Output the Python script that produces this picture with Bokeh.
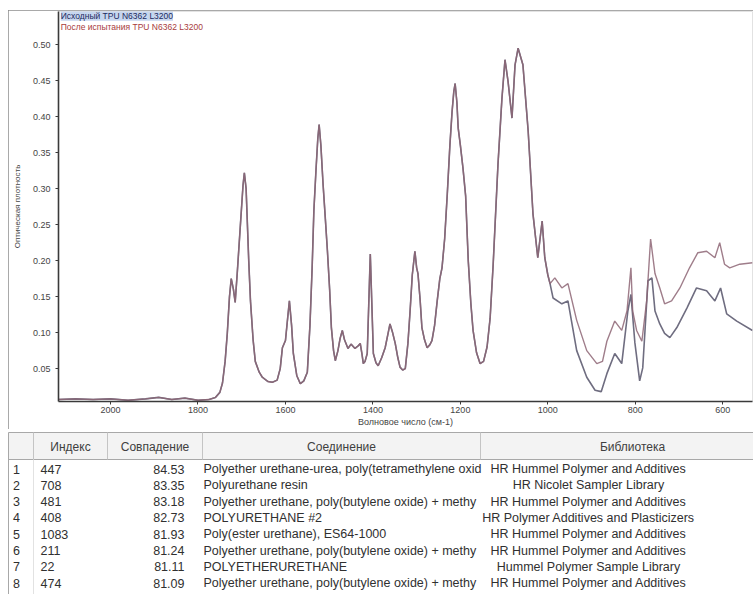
from bokeh.plotting import figure
from bokeh.models import (Range1d, FixedTicker, PrintfTickFormatter, Label)
from bokeh.core.properties import value
from bokeh.embed import file_html
from bokeh.resources import INLINE

# ---------------- data ----------------
wavenumber_shared = [2119, 2080, 2040, 2000, 1960, 1920, 1890, 1860, 1830, 1800, 1775, 1760,
                     1750, 1744, 1738, 1733, 1728, 1724, 1719, 1715, 1710, 1703, 1697, 1694,
                     1690, 1684, 1680, 1674, 1669, 1660, 1653, 1640, 1630, 1619, 1612, 1607,
                     1600, 1595, 1591, 1586, 1582, 1574, 1566, 1558, 1550, 1544, 1539, 1535,
                     1530, 1526, 1523, 1519, 1514, 1509, 1504, 1499, 1495, 1490, 1486, 1480,
                     1475, 1470, 1465, 1457, 1450, 1441, 1433, 1429, 1425, 1422, 1418, 1413,
                     1409, 1406, 1403, 1399, 1393, 1388, 1380, 1372, 1365, 1361, 1355, 1349,
                     1343, 1338, 1332, 1326, 1320, 1315, 1310, 1304, 1300, 1297, 1292, 1288,
                     1282, 1276, 1270, 1265, 1259, 1253, 1247, 1242, 1236, 1230, 1224, 1219,
                     1215, 1212, 1208, 1205, 1200, 1194, 1188, 1182, 1176, 1171, 1163, 1155,
                     1147, 1139, 1132, 1125, 1114, 1105, 1098, 1091, 1082, 1075, 1068, 1057,
                     1045, 1034, 1023, 1013, 1007, 1000]
absorbance_shared = [0.007, 0.008, 0.007, 0.008, 0.006, 0.008, 0.010, 0.007, 0.009, 0.006, 0.007, 0.010,
                     0.017, 0.030, 0.060, 0.099, 0.150, 0.175, 0.160, 0.142, 0.185, 0.250, 0.305, 0.322,
                     0.300, 0.200, 0.144, 0.090, 0.060, 0.045, 0.038, 0.032, 0.031, 0.034, 0.050, 0.079,
                     0.089, 0.120, 0.144, 0.110, 0.071, 0.040, 0.029, 0.033, 0.045, 0.110, 0.190, 0.270,
                     0.328, 0.370, 0.389, 0.360, 0.306, 0.260, 0.213, 0.160, 0.107, 0.075, 0.061, 0.075,
                     0.092, 0.103, 0.090, 0.078, 0.084, 0.078, 0.082, 0.085, 0.070, 0.057, 0.060, 0.071,
                     0.150, 0.209, 0.150, 0.071, 0.058, 0.054, 0.065, 0.079, 0.100, 0.112, 0.100, 0.085,
                     0.065, 0.052, 0.048, 0.050, 0.085, 0.130, 0.180, 0.213, 0.190, 0.182, 0.145, 0.107,
                     0.090, 0.079, 0.083, 0.089, 0.110, 0.144, 0.175, 0.190, 0.230, 0.292, 0.360, 0.407,
                     0.435, 0.446, 0.420, 0.384, 0.360, 0.328, 0.290, 0.200, 0.140, 0.103, 0.072, 0.057,
                     0.060, 0.080, 0.120, 0.195, 0.334, 0.425, 0.479, 0.449, 0.398, 0.472, 0.495, 0.472,
                     0.380, 0.265, 0.204, 0.255, 0.204, 0.180]

# after-test spectrum (upper branch below 1000 cm-1)
wavenumber_after_tail = [995, 984, 968, 954, 934, 911, 888, 875, 865, 847, 831, 819, 810, 806,
                         797, 785, 774, 765, 755, 744, 733, 717, 698, 676, 657, 637, 618, 607,
                         596, 584, 561, 532]
absorbance_after_tail = [0.168, 0.176, 0.162, 0.168, 0.117, 0.075, 0.057, 0.060, 0.088, 0.116, 0.103,
                         0.130, 0.190, 0.130, 0.103, 0.088, 0.144, 0.230, 0.182, 0.162, 0.140, 0.144,
                         0.162, 0.190, 0.211, 0.213, 0.204, 0.225, 0.195, 0.190, 0.195, 0.197]

# original spectrum (lower branch below 1000 cm-1)
wavenumber_orig_tail = [995, 988, 968, 954, 934, 911, 892, 878, 865, 847, 831, 817, 810, 801,
                        790, 783, 771, 762, 755, 744, 733, 721, 705, 682, 660, 637, 618, 605,
                        591, 568, 532]
absorbance_orig_tail = [0.168, 0.148, 0.140, 0.144, 0.075, 0.038, 0.020, 0.018, 0.043, 0.071, 0.057,
                        0.130, 0.153, 0.086, 0.033, 0.051, 0.172, 0.176, 0.130, 0.112, 0.099, 0.093,
                        0.107, 0.134, 0.162, 0.158, 0.144, 0.162, 0.126, 0.116, 0.103]

y_ticks = [0.05, 0.10, 0.15, 0.20, 0.25, 0.30, 0.35, 0.40, 0.45, 0.50]
x_ticks = [2000, 1800, 1600, 1400, 1200, 1000, 800, 600]

series_names = ["Исходный TPU N6362 L3200", "После испытания TPU N6362 L3200"]

table_headers = ["Индекс", "Совпадение", "Соединение", "Библиотека"]
row_numbers = ["1", "2", "3", "4", "5", "6", "7", "8"]
index_values = ["447", "708", "481", "408", "1083", "211", "22", "474"]
match_values = ["84.53", "83.35", "83.18", "82.73", "81.93", "81.24", "81.11", "81.09"]
compounds = [
    "Polyether urethane-urea, poly(tetramethylene oxid",
    "Polyurethane resin",
    "Polyether urethane, poly(butylene oxide) + methy",
    "POLYURETHANE #2",
    "Poly(ester urethane), ES64-1000",
    "Polyether urethane, poly(butylene oxide) + methy",
    "POLYETHERURETHANE",
    "Polyether urethane, poly(butylene oxide) + methy",
]
libraries = [
    "HR Hummel Polymer and Additives",
    "HR Nicolet Sampler Library",
    "HR Hummel Polymer and Additives",
    "HR Polymer Additives and Plasticizers",
    "HR Hummel Polymer and Additives",
    "HR Hummel Polymer and Additives",
    "Hummel Polymer Sample Library",
    "HR Hummel Polymer and Additives",
]

# ---------------- spectrum ----------------
FONT = "Liberation Sans"
p = figure(width=745, height=419, x_range=Range1d(2119, 532), y_range=Range1d(0.0043, 0.546),
           output_backend="svg", toolbar_location=None, margin=(10, 0, 0, 8),
           styles={"outline": "2px solid #8c8c8c", "outline-offset": "-2px"},
           min_border_left=50, min_border_right=1, min_border_top=1, min_border_bottom=28)
p.grid.visible = False
p.outline_line_color = None
p.background_fill_color = "white"
p.border_fill_color = "white"

wn_orig = wavenumber_shared + wavenumber_orig_tail
ab_orig = absorbance_shared + absorbance_orig_tail
wn_after = wavenumber_shared + wavenumber_after_tail
ab_after = absorbance_shared + absorbance_after_tail

p.line(wn_orig, ab_orig, line_color="#6f6d80", line_width=1.6)
p.line(wn_after, ab_after, line_color="#8e6676", line_width=1.4, line_alpha=0.85)

for ax in (p.xaxis[0], p.yaxis[0]):
    ax.axis_line_color = "#3a3a3a"
    ax.axis_line_width = 1.6
    ax.major_tick_line_color = "#3a3a3a"
    ax.major_tick_out = 3
    ax.major_tick_in = 0
    ax.minor_tick_line_color = None
    ax.major_label_text_font = FONT
    ax.major_label_text_font_size = "9px"
    ax.major_label_text_color = "#444444"
    ax.axis_label_text_font = FONT
    ax.axis_label_text_font_style = "normal"
    ax.axis_label_text_color = "#444444"

p.yaxis[0].ticker = FixedTicker(ticks=y_ticks)
p.yaxis[0].formatter = PrintfTickFormatter(format="%.2f")
p.yaxis[0].major_label_standoff = 5
p.yaxis[0].axis_label = "Оптическая плотность"
p.yaxis[0].axis_label_text_font_size = "8px"
p.yaxis[0].axis_label_standoff = 8

p.xaxis[0].ticker = FixedTicker(ticks=x_ticks)
p.xaxis[0].major_label_standoff = 2
p.xaxis[0].axis_label = "Волновое число (см-1)"
p.xaxis[0].axis_label_text_font_size = "9px"
p.xaxis[0].axis_label_standoff = 1

p.add_layout(Label(x=2114, y=0.540, text=series_names[0], text_font=FONT, text_font_size="8.5px",
                   text_color="#1c2a60", text_baseline="middle",
                   background_fill_color="#c6d6ef"))
p.add_layout(Label(x=2114, y=0.525, text=series_names[1], text_font=FONT, text_font_size="8.5px",
                   text_color="#a83c3c", text_baseline="middle"))

# ---------------- table ----------------
TH = 165
t = figure(width=753, height=TH, x_range=Range1d(0, 753), y_range=Range1d(TH, 0),
           output_backend="svg", toolbar_location=None, min_border=0,
           x_axis_type=None, y_axis_type=None)
t.grid.visible = False
t.outline_line_color = None
t.background_fill_color = "white"
t.border_fill_color = "white"

col_edges = [8, 33, 107, 202, 480, 784]
header_top, header_bottom = 3, 30
row0, row_step = 39.5, 16.3
n = len(row_numbers)
row_y = [row0 + row_step * i for i in range(n)]

t.quad(left=[col_edges[0]], right=[753], top=[header_top], bottom=[header_bottom],
       fill_color="#f3f3f3", line_color=None)
t.segment(x0=[col_edges[0], col_edges[0]], y0=[header_top, header_bottom],
          x1=[753, 753], y1=[header_top, header_bottom], line_color="#a8a8a8", line_width=1)
t.segment(x0=[col_edges[0]], y0=[header_top], x1=[col_edges[0]], y1=[TH],
          line_color="#a8a8a8", line_width=1)
t.segment(x0=col_edges[1:5], y0=[header_top] * 4, x1=col_edges[1:5], y1=[header_bottom] * 4,
          line_color="#c4c4c4", line_width=1)
t.segment(x0=[col_edges[1]], y0=[header_bottom], x1=[col_edges[1]], y1=[TH],
          line_color="#e2e2e2", line_width=1)

hx = [(col_edges[i + 1] + col_edges[i + 2]) / 2 for i in range(4)]
t.text(x=hx, y=[(header_top + header_bottom) / 2 + 1] * 4, text=table_headers,
       text_align="center", text_baseline="middle", text_font=value(FONT),
       text_font_size="12px", text_color="#404040")

common = dict(text_baseline="middle", text_font=value(FONT), text_font_size="12.5px",
              text_color="#303030")
t.text(x=[16] * n, y=row_y, text=row_numbers, text_align="center", **common)
t.text(x=[40] * n, y=row_y, text=index_values, text_align="left", **common)
t.text(x=[184] * n, y=row_y, text=match_values, text_align="right", **common)
t.text(x=[203] * n, y=row_y, text=compounds, text_align="left", **common)
t.text(x=[588] * n, y=row_y, text=libraries, text_align="center", **common)

open("out.html", "w").write(file_html([p, t], INLINE))
